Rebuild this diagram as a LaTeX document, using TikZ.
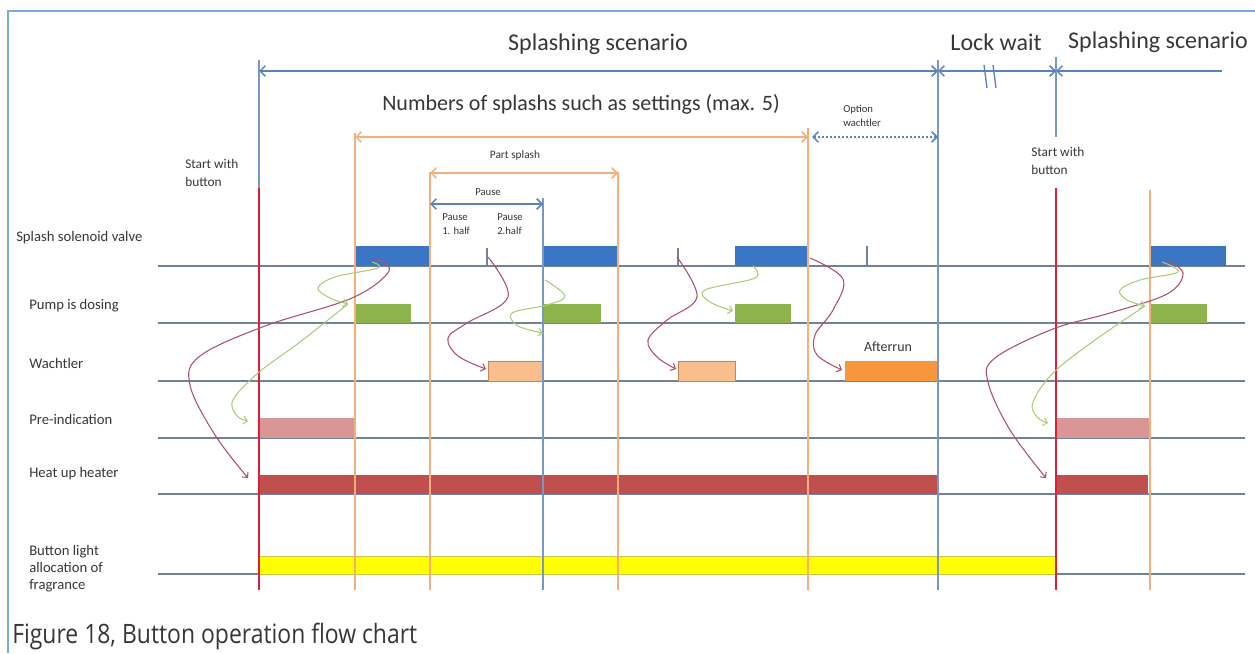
\documentclass[tikz,border=0pt]{standalone}
\usepackage{fontspec}
\setmainfont{Carlito}
\newfontfamily\capfont{Open Sans}
\usetikzlibrary{arrows.meta,fit}
\definecolor{frameblue}{RGB}{120,170,220}
\definecolor{guideblue}{RGB}{120,150,200}
\definecolor{arrowblue}{RGB}{90,130,190}
\definecolor{guideorange}{RGB}{244,175,125}
\definecolor{startred}{RGB}{225,30,55}
\definecolor{baseln}{RGB}{115,130,155}
\definecolor{svblue}{RGB}{58,118,196}
\definecolor{pdgreen}{RGB}{140,180,75}
\definecolor{wlorange}{RGB}{250,190,140}
\definecolor{wlborder}{RGB}{200,130,90}
\definecolor{arorange}{RGB}{247,150,60}
\definecolor{pipink}{RGB}{217,150,148}
\definecolor{hhred}{RGB}{192,80,77}
\definecolor{blyellow}{RGB}{255,255,0}
\definecolor{blborder}{RGB}{200,200,70}
\definecolor{curvered}{RGB}{175,80,105}
\definecolor{curvegreen}{RGB}{170,205,120}
\definecolor{txt}{RGB}{55,55,55}
\begin{document}
\begin{tikzpicture}[x=0.75pt,y=-0.75pt,
  lbl/.style={font=\fontsize{11}{13}\selectfont, text=txt, inner sep=0pt, align=left},
  small/.style={font=\fontsize{8}{10.5}\selectfont, text=txt, inner sep=0pt, align=left},
  big/.style={font=\fontsize{18}{22}\selectfont, text=txt, inner sep=0pt},
  barbox/.style={inner sep=0pt, outer sep=0pt},
  guideO/.style={guideorange, line width=0.9pt},
  guideB/.style={guideblue, line width=1.1pt},
  guideR/.style={startred, line width=1.6pt},
  base/.style={baseln, line width=1.3pt},
  spanB/.style={arrowblue, line width=1.1pt, {Straight Barb[length=4pt,width=8pt]}-{Straight Barb[length=4pt,width=8pt]}},
  spanO/.style={guideorange, line width=1.1pt, {Straight Barb[length=4pt,width=8pt]}-{Straight Barb[length=4pt,width=8pt]}},
  cr/.style={curvered, line width=0.8pt, -{Straight Barb[length=3pt,width=6pt]}},
  cg/.style={curvegreen, line width=0.8pt, -{Straight Barb[length=3pt,width=6pt]}}
]
\useasboundingbox (0,0) rectangle (1255,653);
\fill[white] (0,0) rectangle (1255,653);
\draw[frameblue, line width=1pt] (8,653) -- (8,11) -- (1255,11);

% baselines
\foreach \y in {266,323,381,438,494,574}{\draw[base] (158,\y) -- (1245,\y);}

% bars
\node[barbox, fill=svblue, fit={(355,246)(430,266)}] (sv1) {};
\node[barbox, fill=svblue, fit={(543,246)(618,266)}] (sv2) {};
\node[barbox, fill=svblue, fit={(735,246)(809,266)}] (sv3) {};
\node[barbox, fill=svblue, fit={(1150,246)(1226,266)}] (sv4) {};
\node[barbox, fill=pdgreen, fit={(355,304)(411,323)}] (pd1) {};
\node[barbox, fill=pdgreen, fit={(543,304)(601,323)}] (pd2) {};
\node[barbox, fill=pdgreen, fit={(735,304)(791,323)}] (pd3) {};
\node[barbox, fill=pdgreen, fit={(1150,304)(1207,323)}] (pd4) {};
\node[barbox, fill=wlorange, draw=wlborder, line width=0.6pt, fit={(488,361)(543,381)}] (w1) {};
\node[barbox, fill=wlorange, draw=wlborder, line width=0.6pt, fit={(678,361)(735,381)}] (w2) {};
\node[barbox, fill=arorange, fit={(845,361)(938,381)}] (ar) {};
\node[barbox, fill=pipink, fit={(259,418)(355,438)}] (pi1) {};
\node[barbox, fill=pipink, fit={(1056,418)(1151,438)}] (pi2) {};
\node[barbox, fill=hhred, fit={(259,475)(938,494)}] (hh1) {};
\node[barbox, fill=hhred, fit={(1056,475)(1148,494)}] (hh2) {};
\node[barbox, fill=blyellow, draw=blborder, line width=0.6pt, fit={(259,556)(1056,574)}] (bl) {};

% guide lines
\draw[guideB] (259,60) -- (259,188);
\draw[guideO] (355,133) -- (355,590);
\draw[guideO] (430,172) -- (430,590);
\draw[guideB] (543,198) -- (543,590);
\draw[guideO] (618,172) -- (618,590);
\draw[guideO] (808,128) -- (808,590);
\draw[guideB] (938,60) -- (938,590);
\draw[guideB] (1056,57) -- (1056,137);
\draw[guideO] (1150,190) -- (1150,590);
\draw[guideR] (259,188) -- (259,590);
\draw[guideR] (1056,188) -- (1056,590);
% pause midpoint ticks
\draw[baseln, line width=0.8pt] (487,248) -- (487,266);
\draw[baseln, line width=0.8pt] (678,248) -- (678,266);
\draw[baseln, line width=0.8pt] (867,246) -- (867,266);

% spans
\coordinate (a0) at (259,71); \coordinate (a1) at (938,71);
\coordinate (a2) at (1056,71); \coordinate (a3) at (1222,71);
\draw[spanB] (a0) -- (a1);
\draw[spanB] (a1) -- (a2);
\draw[arrowblue, line width=1.1pt, {Straight Barb[length=4pt,width=8pt]}-] (a2) -- (a3);
\draw[arrowblue, line width=1pt] (984,65) -- (987,88) (993,65) -- (996,88);
\coordinate (n0) at (355,137); \coordinate (n1) at (808,137); \coordinate (n2) at (938,137);
\draw[spanO] (n0) -- (n1);
\draw[spanB, dash pattern=on 2pt off 1pt] ([xshift=3pt]n1) -- (n2);
\coordinate (p0) at (430,173); \coordinate (p1) at (618,173);
\draw[spanO] (p0) -- (p1);
\coordinate (q0) at (430,204); \coordinate (q1) at (543,204);
\draw[spanB] (q0) -- (q1);

% texts
\node[big] (t1) at (598,44) {Splashing scenario};
\node[big] (t2) at (996,42) {Lock wait};
\node[big] (t3) at (1158,42) {Splashing scenario};
\node[font=\fontsize{16.5}{20}\selectfont, text=txt, inner sep=0pt] (t4) at (581,104) {Numbers of splashs such as settings (max. 5)};
\node[small, anchor=west] (t5) at (843,116) {Option\\wachtler};
\node[small, font=\fontsize{8.5}{10}\selectfont] (t6) at (515,155) {Part splash};
\node[small] (t7) at (488,192) {Pause};
\node[small, anchor=west] (t8) at (442,224) {Pause\\1. half};
\node[small, anchor=west] (t9) at (497,224) {Pause\\2.half};
\node[lbl, font=\fontsize{10}{13}\selectfont, anchor=west] (t10) at (185,173) {Start with\\button};
\node[lbl, font=\fontsize{10}{13}\selectfont, anchor=west] (t11) at (1031,161) {Start with\\button};
\node[lbl, font=\fontsize{10.5}{12}\selectfont] (t12) at (888,347) {Afterrun};
\node[lbl, anchor=west] (l1) at (16,238) {Splash solenoid valve};
\node[lbl, anchor=west] (l2) at (29,306) {Pump is dosing};
\node[lbl, anchor=west] (l3) at (29,363) {Wachtler};
\node[lbl, anchor=west] (l4) at (29,419) {Pre-indication};
\node[lbl, anchor=west] (l5) at (29,474) {Heat up heater};
\node[lbl, anchor=west, font=\fontsize{11}{12.75}\selectfont] (l6) at (29,569) {Button light\\allocation of\\fragrance};
\node[anchor=west, inner sep=0pt, text=txt] (cap) at (12,636) {\scalebox{0.86}[1]{\capfont\fontsize{20}{24}\selectfont Figure 18, Button operation flow chart}};

% curves
\coordinate (r1s) at (375,258); \coordinate (r1e) at (248,478);
\draw[cr] plot[smooth, tension=0.6] coordinates {(r1s) (389,271) (352,298) (265,326) (200,356) (190,385) (215,435) (r1e)};
\coordinate (g1s) at (372,262); \coordinate (g1e) at (348,304);
\draw[cg] plot[smooth, tension=0.6] coordinates {(g1s) (378,268) (335,277) (318,288) (330,298) (g1e)};
\coordinate (g1f) at (248,421);
\draw[cg] plot[smooth, tension=0.6] coordinates {(g1e) (300,342) (258,373) (233,400) (237,416) (g1f)};
\coordinate (r2s) at (488,257); \coordinate (r2e) at (486,369);
\draw[cr] plot[smooth, tension=0.6] coordinates {(r2s) (508,297) (467,323) (448,338) (458,356) (r2e)};
\coordinate (g2s) at (545,280); \coordinate (g2e) at (543,333);
\draw[cg] plot[smooth, tension=0.6] coordinates {(g2s) (565,296) (547,305) (512,313) (518,326) (g2e)};
\coordinate (r3s) at (677,257); \coordinate (r3e) at (676,369);
\draw[cr] plot[smooth, tension=0.6] coordinates {(r3s) (697,297) (667,320) (648,340) (657,357) (r3e)};
\coordinate (g3s) at (753,266); \coordinate (g3e) at (733,311);
\draw[cg] plot[smooth, tension=0.6] coordinates {(g3s) (755,278) (705,290) (710,302) (g3e)};
\coordinate (r4s) at (810,258); \coordinate (r4e) at (842,370);
\draw[cr] plot[smooth, tension=0.6] coordinates {(r4s) (843,279) (833,310) (815,335) (817,355) (r4e)};
\coordinate (r5s) at (1165,259); \coordinate (r5e) at (1046,478);
\draw[cr] plot[smooth, tension=0.6] coordinates {(r5s) (1183,273) (1167,294) (1110,313) (1053,329) (995,358) (988,382) (1010,430) (r5e)};
\coordinate (g5s) at (1162,262); \coordinate (g5e) at (1145,306);
\draw[cg] plot[smooth, tension=0.6] coordinates {(g5s) (1178,272) (1140,280) (1120,290) (1127,300) (g5e)};
\coordinate (g5f) at (1048,423);
\draw[cg] plot[smooth, tension=0.6] coordinates {(g5e) (1095,340) (1053,373) (1033,402) (1037,417) (g5f)};
\end{tikzpicture}
\end{document}
